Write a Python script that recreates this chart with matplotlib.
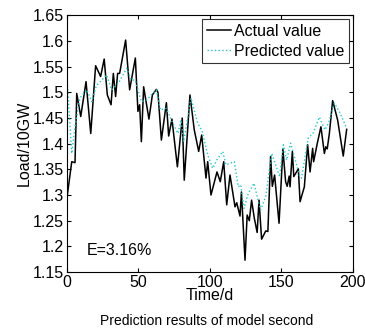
import matplotlib
matplotlib.use("Agg")
import matplotlib.pyplot as plt

plt.rcParams['font.family'] = ['Liberation Sans', 'DejaVu Sans']

actual_day = [0, 3.3, 5.6, 6.8, 9.6, 13.3, 16.6, 20, 23.5, 26, 28.2, 30.8, 32.4, 34, 35.4, 36.8, 41,
              43.8, 47.8, 49.6, 50.8, 52, 53.6, 57.3, 59.7, 62.5, 63.6, 66, 69.5, 71.1, 73.4, 77.2,
              80.6, 82, 86, 89, 92.1, 94.2, 97.2, 98.4, 100.7, 104.9, 107.2, 109.6, 111.7, 114,
              117.5, 118.7, 121, 122, 124.5, 126, 127.5, 129.1, 131, 133, 134.3, 136.1, 139, 140.5,
              142.4, 143.6, 145.2, 148.3, 151, 152.9, 154, 155.4, 156, 157.6, 158.6, 161.8, 163,
              166, 168.3, 170, 171.8, 172.5, 175, 177.6, 180, 181, 182, 183.5, 185.8, 189.3, 193.2, 195.6]
actual_val = [1.295, 1.365, 1.363, 1.498, 1.453, 1.521, 1.420, 1.552, 1.531, 1.565, 1.495, 1.476, 1.537, 1.492, 1.537, 1.537, 1.602,
              1.505, 1.567, 1.463, 1.476, 1.404, 1.511, 1.448, 1.495, 1.506, 1.500, 1.407, 1.480, 1.415, 1.448, 1.355,
              1.450, 1.329, 1.495, 1.427, 1.385, 1.417, 1.333, 1.365, 1.300, 1.345, 1.326, 1.365, 1.281, 1.339,
              1.277, 1.285, 1.259, 1.306, 1.173, 1.261, 1.250, 1.290, 1.255, 1.227, 1.290, 1.214, 1.230, 1.229,
              1.375, 1.317, 1.339, 1.245, 1.389, 1.326, 1.317, 1.337, 1.316, 1.385, 1.336, 1.351, 1.287,
              1.316, 1.398, 1.345, 1.391, 1.365, 1.400, 1.433, 1.381, 1.394, 1.390, 1.420, 1.484, 1.446, 1.376, 1.428]

pred_day = [0, 3.3, 5.6, 9, 13.8, 17.3, 20.5, 27.7, 31.2, 36, 41.7, 45, 47.7, 52, 55.5, 62.5, 65.3, 69.5,
            73, 77.6, 79.7, 81.6, 86.7, 91.4, 94.5, 98.4, 101.9, 104.7, 108.9, 111.2, 117, 119.8, 121.5,
            123.8, 126.8, 130.8, 133, 135.4, 139, 143.2, 147, 148.7, 151.3, 153.6, 156.4, 160, 162.8,
            164, 168.7, 172, 176.5, 180.4, 182.9, 187, 191, 195.6]
pred_val = [1.528, 1.381, 1.433, 1.489, 1.505, 1.482, 1.513, 1.534, 1.505, 1.518, 1.547, 1.524, 1.524, 1.482, 1.485, 1.505, 1.466, 1.469,
            1.446, 1.420, 1.446, 1.404, 1.489, 1.440, 1.425, 1.378, 1.352, 1.368, 1.385, 1.359, 1.365, 1.316, 1.320,
            1.274, 1.303, 1.323, 1.297, 1.271, 1.297, 1.381, 1.350, 1.336, 1.398, 1.368, 1.401, 1.365, 1.336,
            1.333, 1.411, 1.420, 1.452, 1.427, 1.440, 1.479, 1.460, 1.430]

xticks = [0, 50, 100, 150, 200]
yticks = [1.15, 1.2, 1.25, 1.3, 1.35, 1.4, 1.45, 1.5, 1.55, 1.6, 1.65]
ytick_labels = ['1.15', '1.2', '1.25', '1.3', '1.35', '1.4', '1.45', '1.5', '1.55', '1.6', '1.65']

fs = 11.5
fig = plt.figure(figsize=(3.65, 3.36), dpi=100)
ax = fig.add_axes([0.1836, 0.1905, 0.7834, 0.7635])
ax.plot(actual_day, actual_val, color='black', lw=1.1, label='Actual value')
ax.plot(pred_day, pred_val, color='#22c8c8', lw=1.0, ls=':', label='Predicted value')
ax.set_xlim(0, 200)
ax.set_ylim(1.15, 1.65)
ax.set_xticks(xticks)
ax.set_yticks(yticks)
ax.set_yticklabels(ytick_labels)
ax.tick_params(direction='in', top=True, right=True, labelsize=fs, length=3, pad=2)
for s in ax.spines.values():
    s.set_linewidth(0.8)
ax.set_xlabel('Time/d', fontsize=fs, labelpad=-1)
ax.set_ylabel('Load/10GW', fontsize=fs, labelpad=1)
ax.text(14, 1.191, 'E=3.16%', fontsize=fs, va='center', ha='left')
leg = ax.legend(loc='upper right', fontsize=fs, frameon=True, fancybox=False, edgecolor='black',
                borderpad=0.3, labelspacing=0.3, handlelength=1.5, handletextpad=0.2,
                borderaxespad=0.22)
leg.get_frame().set_linewidth(0.8)
fig.text(0.567, 0.045, 'Prediction results of model second', fontsize=10, ha='center', va='center')
fig.savefig('out.png', dpi=100)
